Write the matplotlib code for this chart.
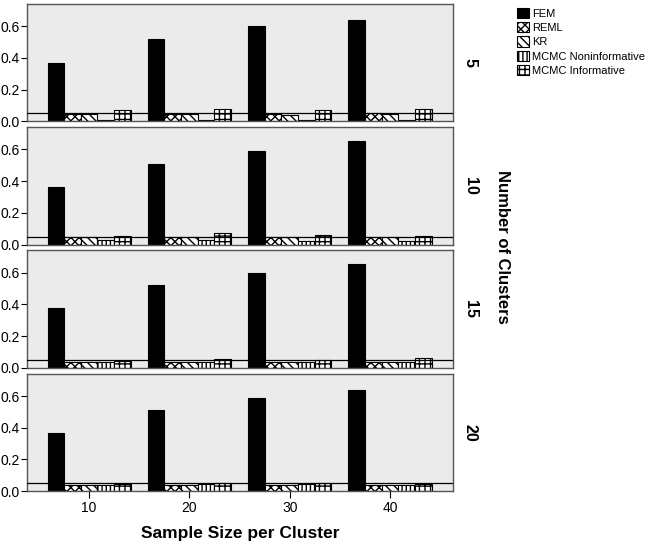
import numpy as np
import matplotlib
matplotlib.use("Agg")
import matplotlib.pyplot as plt
from matplotlib.patches import Patch

# data
sample_sizes = [10, 20, 30, 40]
clusters = ["5", "10", "15", "20"]
methods = ["FEM", "REML", "KR", "MCMC Noninformative", "MCMC Informative"]

fem = [[0.365, 0.52, 0.60, 0.64],
       [0.36, 0.51, 0.59, 0.65],
       [0.375, 0.525, 0.595, 0.655],
       [0.37, 0.51, 0.585, 0.64]]
reml = [[0.045, 0.045, 0.045, 0.05],
        [0.045, 0.045, 0.045, 0.045],
        [0.04, 0.04, 0.04, 0.04],
        [0.04, 0.04, 0.04, 0.04]]
kr = [[0.045, 0.045, 0.04, 0.045],
      [0.045, 0.045, 0.045, 0.045],
      [0.04, 0.04, 0.04, 0.04],
      [0.04, 0.04, 0.04, 0.04]]
mcmc_non = [[0.01, 0.01, 0.01, 0.01],
            [0.03, 0.03, 0.025, 0.02],
            [0.04, 0.04, 0.04, 0.04],
            [0.04, 0.045, 0.045, 0.04]]
mcmc_inf = [[0.07, 0.075, 0.07, 0.075],
            [0.055, 0.07, 0.06, 0.055],
            [0.045, 0.055, 0.05, 0.06],
            [0.045, 0.05, 0.05, 0.045]]
ref_level = 0.05

series = [fem, reml, kr, mcmc_non, mcmc_inf]
styles = [dict(color="black", hatch=None),
          dict(color="white", hatch="xxxx"),
          dict(color="white", hatch="\\\\\\\\"),
          dict(color="white", hatch="||||"),
          dict(color="white", hatch="+++")]

plt.rcParams["font.family"] = ["Liberation Sans", "DejaVu Sans"]
plt.rcParams["hatch.linewidth"] = 1.0
fig = plt.figure(figsize=(6.52, 5.44), dpi=100)
gs = fig.add_gridspec(4, 1, left=0.0414, right=0.695, top=0.993, bottom=0.097, hspace=0.05)

bw = 1.66
x = np.array(sample_sizes, dtype=float)
for i, lab in enumerate(clusters):
    ax = fig.add_subplot(gs[i])
    ax.set_facecolor("#ebebeb")
    for j, (vals, st) in enumerate(zip(series, styles)):
        ax.bar(x + (j - 2) * bw, vals[i], width=bw, color=st["color"], hatch=st["hatch"],
               edgecolor="black", linewidth=0.8, zorder=2)
    ax.axhline(ref_level, color="black", linewidth=0.9, zorder=3)
    ax.set_xlim(3.8, 46.3)
    ax.set_ylim(0, 0.74)
    ax.set_yticks([0.0, 0.2, 0.4, 0.6])
    ax.set_yticklabels(["0.0", "0.2", "0.4", "0.6"], fontsize=10)
    ax.tick_params(axis="y", length=4, pad=1)
    for s in ax.spines.values():
        s.set_color("#555555")
        s.set_linewidth(1.0)
    ax.text(1.04, 0.5, lab, transform=ax.transAxes, rotation=-90, fontsize=11.5,
            fontweight="bold", ha="center", va="center")
    if i < 3:
        ax.set_xticks([])
    else:
        ax.set_xticks(sample_sizes)
        ax.set_xticklabels([str(s) for s in sample_sizes], fontsize=10)
        ax.tick_params(axis="x", length=5, pad=2)
        ax.set_xlabel("Sample Size per Cluster", fontsize=12.5, fontweight="bold", labelpad=8)

fig.text(0.77, 0.546, "Number of Clusters", rotation=-90, fontsize=12, fontweight="bold",
         ha="center", va="center")

handles = [Patch(facecolor=st["color"], hatch=st["hatch"], edgecolor="black", linewidth=0.8)
           for st in styles]
fig.legend(handles, methods, loc="upper left", bbox_to_anchor=(0.783, 0.998), frameon=False,
           fontsize=8, handlelength=1.1, handleheight=1.05, handletextpad=0.25,
           labelspacing=0.3, borderaxespad=0.2)

fig.savefig("out.png", dpi=100)
